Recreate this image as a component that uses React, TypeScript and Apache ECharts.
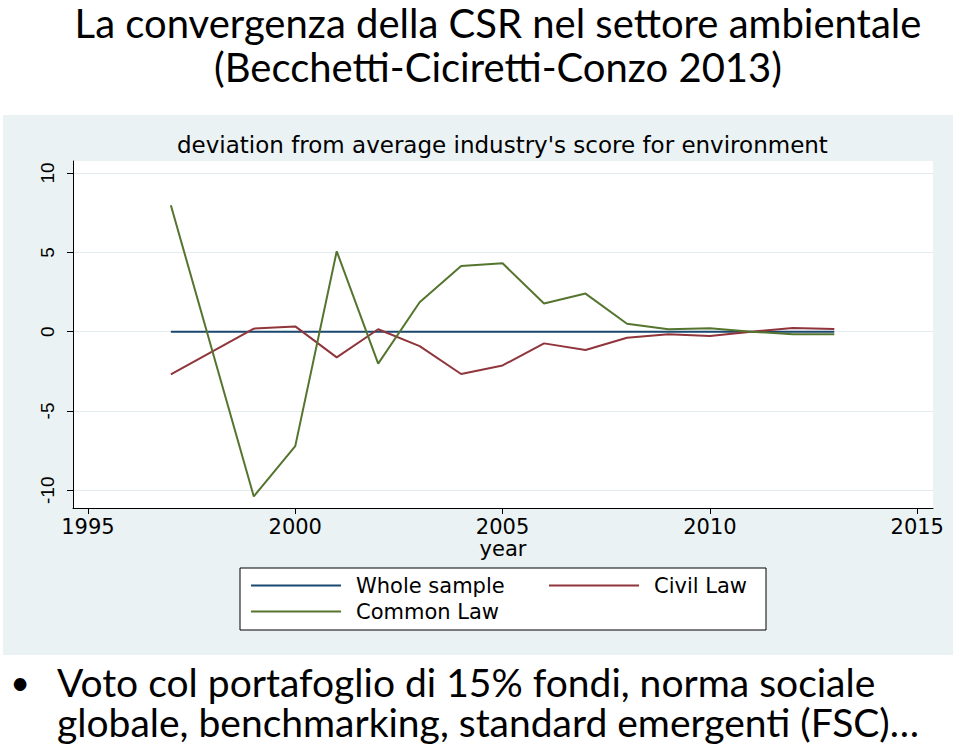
import React, { useEffect, useRef } from "react";
import * as echarts from "echarts";

// ---- data ----
const years = [1997, 1999, 2000, 2001, 2002, 2003, 2004, 2005, 2006, 2007, 2008, 2009, 2010, 2011, 2012, 2013];
const wholeSample = [0, 0, 0, 0, 0, 0, 0, 0, 0, 0, 0, 0, 0, 0, 0, 0];
const civilLaw = [-2.69, 0.19, 0.33, -1.62, 0.15, -0.91, -2.67, -2.13, -0.74, -1.16, -0.38, -0.17, -0.28, 0, 0.23, 0.17];
const commonLaw = [7.97, -10.39, -7.22, 5.07, -2.02, 1.85, 4.14, 4.31, 1.77, 2.4, 0.5, 0.15, 0.21, 0, -0.17, -0.17];
const xTicks = [1995, 2000, 2005, 2010, 2015];
const yTicks = [-10, -5, 0, 5, 10];
const seriesNames = ["Whole sample", "Civil Law", "Common Law"];
const seriesColors = ["#1a476f", "#90353b", "#55752f"];

const slideTitle = ["La convergenza della CSR nel settore ambientale", "(Becchetti-Ciciretti-Conzo 2013)"];
const chartTitle = "deviation from average industry's score for environment";
const xName = "year";
const bulletLines = [
  "Voto col portafoglio di 15% fondi, norma sociale",
  "globale, benchmarking, standard emergenti (FSC)…",
];

const CHART_FONT = "DejaVu Sans";
const SLIDE_FONT = "Lato";

export default function App() {
  const ref = useRef<HTMLDivElement>(null);
  useEffect(() => {
    if (!ref.current) return;
    const chart = echarts.init(ref.current, null, { renderer: "svg" });
    const pairs = (vals: number[]) => years.map((y, i) => [y, vals[i]]);
    const allSeries = [wholeSample, civilLaw, commonLaw];
    const legendCommon = {
      icon: "rect",
      itemWidth: 90,
      itemHeight: 2,
      padding: 0,
      selectedMode: false,
      textStyle: { fontFamily: CHART_FONT, fontSize: 21, color: "#000", padding: [0, 0, 0, 10] },
    };
    const option: any = {
      animation: false,
      backgroundColor: "#ffffff",
      title: {
        text: chartTitle,
        left: 177,
        top: 133,
        padding: 0,
        textStyle: { fontFamily: CHART_FONT, fontSize: 23, fontWeight: "normal", color: "#000" },
      },
      legend: [
        { ...legendCommon, data: [seriesNames[0]], left: 251, top: 575 },
        { ...legendCommon, data: [seriesNames[1]], left: 549, top: 575 },
        { ...legendCommon, data: [seriesNames[2]], left: 251, top: 601 },
      ],
      grid: {
        left: 73,
        right: 27,
        top: 161,
        bottom: 236,
        show: true,
        backgroundColor: "#ffffff",
        borderWidth: 0,
      },
      xAxis: {
        type: "value",
        min: 1994.64,
        max: 2015.38,
        name: xName,
        nameLocation: "middle",
        nameGap: 30,
        nameTextStyle: { fontFamily: CHART_FONT, fontSize: 21, color: "#000" },
        axisLine: { show: true, onZero: false, lineStyle: { color: "#000", width: 1 } },
        axisTick: { show: true, length: 6, customValues: xTicks, lineStyle: { color: "#000" } },
        axisLabel: {
          customValues: xTicks,
          margin: 8,
          fontFamily: CHART_FONT,
          fontSize: 21,
          color: "#000",
          formatter: (v: number) => String(Math.round(v)),
        },
        splitLine: { show: false },
      },
      yAxis: {
        type: "value",
        min: -11.12,
        max: 10.76,
        axisLine: { show: true, onZero: false, lineStyle: { color: "#000", width: 1 } },
        axisTick: { show: true, length: 6, customValues: yTicks, lineStyle: { color: "#000" } },
        axisLabel: {
          customValues: yTicks,
          rotate: 90,
          margin: 16,
          fontFamily: "Liberation Sans",
          fontSize: 19,
          color: "#000",
          formatter: (v: number) => String(Math.round(v)),
        },
        splitLine: { show: true, lineStyle: { color: "#e4ecef", width: 1 } },
      },
      graphic: [
        {
          type: "rect",
          z: -100,
          shape: { x: 3, y: 115, width: 950, height: 540 },
          style: { fill: "#eaf2f3" },
          silent: true,
        },
        {
          type: "rect",
          z: -50,
          shape: { x: 240, y: 568, width: 526, height: 62 },
          style: { fill: "#ffffff", stroke: "#000", lineWidth: 1 },
          silent: true,
        },
        {
          type: "text",
          x: 498,
          y: 23,
          style: { text: slideTitle[0], fontFamily: SLIDE_FONT, fontSize: 40, fill: "#000", align: "center", verticalAlign: "middle" },
        },
        {
          type: "text",
          x: 498,
          y: 67,
          style: { text: slideTitle[1], fontFamily: SLIDE_FONT, fontSize: 40, fill: "#000", align: "center", verticalAlign: "middle" },
        },
        {
          type: "text",
          x: 20,
          y: 681,
          style: { text: "•", fontFamily: SLIDE_FONT, fontSize: 34, fill: "#000", align: "center", verticalAlign: "middle" },
        },
        {
          type: "text",
          x: 57,
          y: 682,
          style: { text: bulletLines[0], fontFamily: SLIDE_FONT, fontSize: 39, fill: "#000", align: "left", verticalAlign: "middle" },
        },
        {
          type: "text",
          x: 57,
          y: 722,
          style: { text: bulletLines[1], fontFamily: SLIDE_FONT, fontSize: 39, fill: "#000", align: "left", verticalAlign: "middle" },
        },
      ],
      series: seriesNames.map((name, i) => ({
        name,
        type: "line",
        data: pairs(allSeries[i]),
        symbol: "none",
        showSymbol: false,
        color: seriesColors[i],
        lineStyle: { color: seriesColors[i], width: 2 },
        z: 2 + i,
      })),
    };
    chart.setOption(option);
    return () => chart.dispose();
  }, []);
  return (
    <div
      ref={ref}
      style={{ position: "absolute", left: 0, top: 0, width: 960, height: 744, background: "#fff" }}
    />
  );
}
